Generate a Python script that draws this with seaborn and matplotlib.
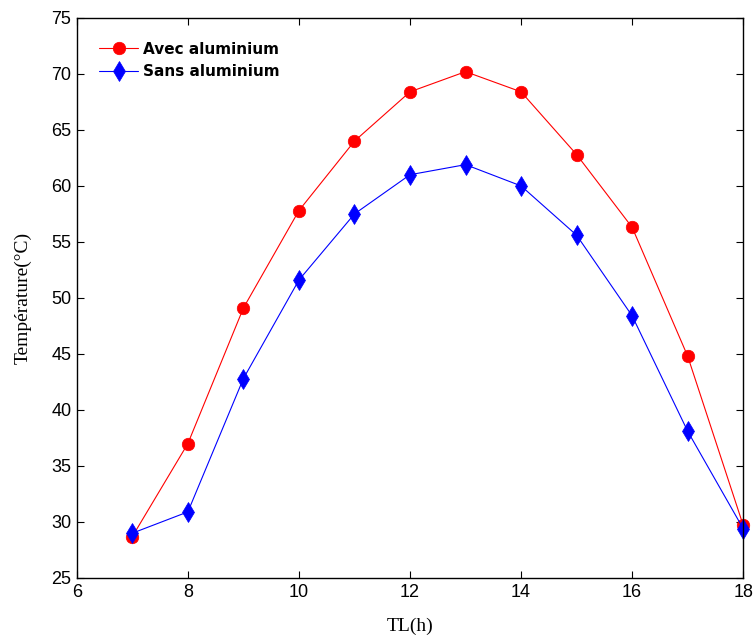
import matplotlib
matplotlib.use("Agg")
import matplotlib.pyplot as plt
import seaborn as sns
import pandas as pd

hours = [7, 8, 9, 10, 11, 12, 13, 14, 15, 16, 17, 18]
avec_aluminium = [28.7, 37.0, 49.1, 57.8, 64.0, 68.4, 70.2, 68.4, 62.8, 56.3, 44.8, 29.7]
sans_aluminium = [29.0, 30.9, 42.8, 51.6, 57.5, 61.0, 61.9, 60.0, 55.6, 48.4, 38.1, 29.4]
series_names = ["Avec aluminium", "Sans aluminium"]
x_ticks = [6, 8, 10, 12, 14, 16, 18]
y_ticks = [25, 30, 35, 40, 45, 50, 55, 60, 65, 70, 75]

df = pd.DataFrame({
    "TL": hours * 2,
    "T": avec_aluminium + sans_aluminium,
    "serie": [series_names[0]] * len(hours) + [series_names[1]] * len(hours),
})

sns.set_style("white")
plt.rcParams["font.family"] = ["Liberation Sans Narrow", "Liberation Sans", "DejaVu Sans"]
plt.rcParams["text.color"] = "black"
plt.rcParams["axes.labelcolor"] = "black"

fig = plt.figure(figsize=(7.53, 6.39), dpi=100)
ax = fig.add_axes([0.102, 0.0955, 0.885, 0.8765])

palette = {series_names[0]: "#ff0000", series_names[1]: "#0000ff"}
markers = {series_names[0]: "o", series_names[1]: "d"}
sns.lineplot(data=df, x="TL", y="T", hue="serie", style="serie",
             palette=palette, markers=markers, dashes=False,
             linewidth=0.8, ax=ax, legend=False)

sizes = [9, 10]
handles = []
for line, ms, name in zip(ax.get_lines(), sizes, series_names):
    line.set_markersize(ms)
    line.set_markeredgewidth(0.5)
    line.set_markeredgecolor(palette[name])
    line.set_markerfacecolor(palette[name])
    line.set_clip_on(False)
    handles.append(line)

ax.set_xlim(6, 18)
ax.set_ylim(25, 75)
ax.set_xticks(x_ticks)
ax.set_yticks(y_ticks)
ax.set_xticklabels([str(t) for t in x_ticks], fontsize=13)
ax.set_yticklabels([str(t) for t in y_ticks], fontsize=13)
ax.tick_params(direction="in", length=5, width=0.8, top=True, right=True,
               bottom=True, left=True, pad=4, colors="black")
for s in ax.spines.values():
    s.set_color("black")
    s.set_linewidth(1.0)

ax.set_xlabel("TL(h)", fontsize=14, family=["Liberation Serif", "DejaVu Serif"], labelpad=12)
ax.set_ylabel("Température(°C)", fontsize=14, family=["Liberation Serif", "DejaVu Serif"], labelpad=14)

leg = ax.legend(handles, series_names, loc="upper left", frameon=False,
                prop={"family": ["DejaVu Sans"], "weight": "bold", "size": 11},
                handlelength=2.6, handletextpad=0.3, labelspacing=0.5,
                borderaxespad=0.6, bbox_to_anchor=(0.01, 0.985))
for t in leg.get_texts():
    t.set_color("black")

fig.savefig("out.png", dpi=100, facecolor="white")
